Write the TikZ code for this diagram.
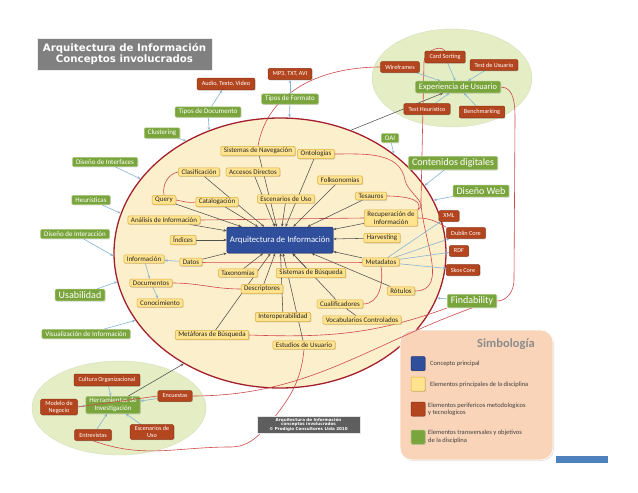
\documentclass[tikz,border=0pt]{standalone}
\usepackage{fontspec}
\setmainfont{Carlito}
\newfontfamily\vfont{DejaVu Sans}
\usetikzlibrary{shapes.geometric,arrows.meta,shadows}
\definecolor{yfill}{HTML}{FFE38F}
\definecolor{yline}{HTML}{DDAE3E}
\definecolor{rfill}{HTML}{B3461E}
\definecolor{rline}{HTML}{8C3414}
\definecolor{gfill}{HTML}{7AA53C}
\definecolor{gline}{HTML}{A9C77F}
\definecolor{mfill}{HTML}{2F4E9B}
\definecolor{mline}{HTML}{1E3472}
\definecolor{bigfill}{HTML}{FCEFCB}
\definecolor{bigline}{HTML}{A3202D}
\definecolor{gellfill}{HTML}{E5EDC4}
\definecolor{legfill}{HTML}{F9D4B8}
\definecolor{lbcol}{HTML}{86B5D2}
\definecolor{dkcol}{HTML}{505050}
\definecolor{relcol}{HTML}{D0494A}
\definecolor{titfill}{HTML}{808080}
\definecolor{copyfill}{HTML}{5E5E5E}
\definecolor{barblue}{HTML}{4F81BD}
\pgfdeclarelayer{back}
\pgfdeclarelayer{mid}
\pgfdeclarelayer{top}
\pgfsetlayers{back,mid,main,top}
\begin{document}
\begin{tikzpicture}[x=1pt,y=-1pt,
 box/.style={rounded corners=1.2pt, inner xsep=3pt, inner ysep=1.7pt, align=center, line width=0.5pt,
   drop shadow={shadow xshift=0.8pt, shadow yshift=-0.8pt, opacity=0.3}},
 ynode/.style={box, fill=yfill, draw=yline, text=black!85, font=\fontsize{7}{7.8}\selectfont},
 rnode/.style={box, fill=rfill, draw=rline, text=white, font=\fontsize{6.2}{7}\selectfont, inner xsep=4.6pt, inner ysep=3.3pt},
 gnode/.style={box, fill=gfill, draw=gline, text=white, font=\fontsize{7}{7.8}\selectfont, inner xsep=3.5pt, inner ysep=2.2pt},
 gbig/.style={gnode, font=\fontsize{10}{11}\selectfont, inner ysep=2.4pt},
 mainnode/.style={box, fill=mfill, draw=mline, text=white, font=\fontsize{8.7}{9.5}\selectfont, minimum width=106pt, minimum height=26pt},
 lb/.style={draw=lbcol, line width=0.6pt, -{Stealth[length=3.2pt,width=2.6pt]}},
 dk/.style={draw=dkcol, line width=0.55pt, -{Stealth[length=3.2pt,width=2.6pt]}},
 rel/.style={draw=relcol, line width=0.6pt},
 legtxt/.style={anchor=west, align=left, text=black!75, font=\fontsize{6.5}{7.5}\selectfont, inner sep=0pt},
 legsq/.style={minimum size=14pt, inner sep=0pt, rounded corners=1pt, line width=0.5pt, drop shadow={shadow xshift=0.8pt, shadow yshift=-0.8pt, opacity=0.3}}
]
\useasboundingbox (0,0) rectangle (638,493);

\begin{pgfonlayer}{back}
\fill[white] (0,0) rectangle (638,493);
\node[ellipse, fill=bigfill, draw=bigline, line width=1.3pt, minimum width=332pt, minimum height=270pt, inner sep=0pt] (BE) at (280,253) {};
\node[ellipse, fill=gellfill, draw=gellfill!85!gray, line width=0.4pt, minimum width=160pt, minimum height=98pt, inner sep=0pt] (UXE) at (452,78) {};
\node[ellipse, fill=gellfill, draw=gellfill!85!gray, line width=0.4pt, minimum width=174pt, minimum height=94pt, inner sep=0pt] (HRE) at (119,408) {};
\node[rounded corners=12pt, fill=legfill, draw=white, line width=0.8pt, minimum width=153pt, minimum height=130pt, inner sep=0pt,
  drop shadow={shadow xshift=1pt, shadow yshift=-1pt, opacity=0.25}] (legend) at (476.5,395) {};
\end{pgfonlayer}

% title
\node[fill=titfill, draw=white!85!gray, line width=1pt, minimum width=175pt, minimum height=32pt, inner sep=1pt, align=center,
  text=white, font=\vfont\bfseries\fontsize{10.2}{11}\selectfont,
  drop shadow={shadow xshift=1.2pt, shadow yshift=-1.2pt, opacity=0.3}] (title) at (124.5,54) {Arquitectura de Información\\Conceptos involucrados};

% top
\node[rnode] (audio) at (226,84) {Audio, Texto, Video};
\node[rnode] (mp3) at (290,74) {MP3, TXT, AVI};
\node[gnode] (tdoc) at (208,112) {Tipos de Documento};
\node[gnode] (tfor) at (290,99) {Tipos de Formato};
\node[gnode] (clus) at (162,133) {Clustering};

% left
\node[gnode] (dint) at (105,162) {Diseño de Interfaces};
\node[gnode] (heur) at (91,200) {Heurísticas};
\node[gnode] (dinc) at (75,234) {Diseño de Interacción};
\node[gbig] (usab) at (80,295) {Usabilidad};
\node[gnode] (visu) at (86,334) {Visualización de Información};

% right
\node[gnode] (oai) at (390,138) {OAI};
\node[gbig] (cont) at (453,163) {Contenidos digitales};
\node[gbig] (dweb) at (481,191) {Diseño Web};
\node[gbig] (find) at (472,301) {Findability};
\node[rnode] (xml) at (449,216) {XML};
\node[rnode] (dub) at (466,233) {Dublin Core};
\node[rnode] (rdf) at (459,251) {RDF};
\node[rnode] (skos) at (463,270) {Skos Core};

% UX
\node[rnode] (card) at (445,57) {Card Sorting};
\node[rnode] (wire) at (400,67) {Wireframes};
\node[rnode] (tusu) at (494,65) {Test de Usuario};
\node[gnode, font=\fontsize{8.4}{9.5}\selectfont] (exp) at (458,87) {Experiencia de Usuario};
\node[rnode] (theu) at (427,109) {Test Heurístico};
\node[rnode] (bench) at (482,112) {Benchmarking};

% research tools
\node[rnode] (cult) at (107,380) {Cultura Organizacional};
\node[rnode, inner ysep=1.6pt] (mode) at (59,407) {Modelo de\\Negocio};
\node[gnode, font=\fontsize{7}{8}\selectfont, inner ysep=1.5pt] (herr) at (113,405) {Herramientas de\\Investigación};
\node[rnode] (encu) at (175,396) {Encuestas};
\node[rnode] (entr) at (93,435) {Entrevistas};
\node[rnode, inner ysep=1.6pt] (esce) at (152,432) {Escenarios de\\Uso};

% main ellipse
\node[mainnode] (main) at (280,240) {Arquitectura de Información};
\node[ynode] (nav) at (258,151) {Sistemas de Navegación};
\node[ynode] (onto) at (316,154) {Ontologías};
\node[ynode] (clas) at (199,172) {Clasificación};
\node[ynode] (acce) at (253,172) {Accesos Directos};
\node[ynode] (folk) at (340,180) {Folksonomías};
\node[ynode] (query) at (164,200) {Query};
\node[ynode] (cata) at (217,202) {Catalogación};
\node[ynode] (esc) at (286,199) {Escenarios de Uso};
\node[ynode] (tes) at (371,196) {Tesauros};
\node[ynode] (anal) at (164,220) {Análisis de Información};
\node[ynode] (recu) at (391,218) {Recuperación de\\Información};
\node[ynode] (harv) at (382,238) {Harvesting};
\node[ynode] (indi) at (183,240) {Índices};
\node[ynode] (info) at (144,259) {Información};
\node[ynode] (datos) at (191,262) {Datos};
\node[ynode] (meta) at (381,262) {Metadatos};
\node[ynode] (taxo) at (238,273) {Taxonomías};
\node[ynode] (sbus) at (311,273) {Sistemas de Búsqueda};
\node[ynode] (docu) at (151,283) {Documentos};
\node[ynode] (rotu) at (401,291) {Rótulos};
\node[ynode] (desc) at (262,289) {Descriptores};
\node[ynode] (cono) at (160,303) {Conocimiento};
\node[ynode] (cual) at (340,304) {Cualificadores};
\node[ynode] (inte) at (283,317) {Interoperabilidad};
\node[ynode] (vocab) at (362,320) {Vocabularios Controlados};
\node[ynode] (metaf) at (212,335) {Metáforas de Búsqueda};
\node[ynode] (estu) at (304,345) {Estudios de Usuario};

% copyright
\node[fill=copyfill, draw=white!80!gray, line width=0.5pt, minimum width=103pt, minimum height=17pt, inner sep=0.5pt, align=center,
  text=white, font=\vfont\bfseries\fontsize{4.1}{4.7}\selectfont,
  drop shadow={shadow xshift=0.8pt, shadow yshift=-0.8pt, opacity=0.3}] (copy) at (308.5,424.5)
  {Arquitectura de Información\\conceptos involucrados\\© Prodigio Consultores Ltda 2010};

% legend content
\node[text=black!45, font=\bfseries\fontsize{12.5}{13}\selectfont, inner sep=0pt] (simb) at (506,344) {Simbología};
\node[legsq, fill=mfill, draw=mline] (lq1) at (418,363.5) {};
\node[legsq, fill=yfill, draw=yline] (lq2) at (418,384) {};
\node[legsq, fill=rfill, draw=rline] (lq3) at (418,409) {};
\node[legsq, fill=gfill, draw=gline] (lq4) at (418,437) {};
\node[legtxt] (lt1) at (430,364) {Concepto principal};
\node[legtxt] (lt2) at (430,385) {Elementos principales de la disciplina};
\node[legtxt] (lt3) at (428,409.5) {Elementos perifericos metodologicos\\y tecnologicos};
\node[legtxt] (lt4) at (428,437) {Elementos transversales y objetivos\\de la disciplina};

\node[fill=barblue, minimum width=52pt, minimum height=7pt, inner sep=0pt] (bar) at (582,459.5) {};

\begin{pgfonlayer}{top}
\draw[rel] (mode.east) -- (encu.west);
\end{pgfonlayer}

\begin{pgfonlayer}{mid}
% relation curves (red)
\draw[rel] (clas.west) to[out=190,in=100] (query.north);
\draw[rel] (query.east) to[out=-10,in=190] (cata.west);
\draw[rel] (anal.east) -- (recu.west);
\draw[rel] (recu.east) to[out=0,in=150] (dub.north west);
\draw[rel] (datos.east) to[out=0,in=180] (meta.west);
\draw[rel] (docu.east) to[out=0,in=180] (desc.west);
\draw[rel] (metaf.east) to[out=-2,in=200] (find.south west);
\draw[rel] (meta.south) to[out=-80,in=0] (cual.east);
\draw[rel] (onto.east) to[out=0,in=100] (405,180) to[out=-80,in=30] (recu.north east);
\draw[rel] (tes.east) to[out=0,in=60] (recu.north east);
\draw[rel] (nav.north) to[out=80,in=180] (wire.west);
\draw[rel] (card.north) to[out=130,in=90] (424,62) -- (421,200) to[out=-90,in=0] (rotu.east);
\draw[rel] (exp.east) to[out=0,in=90] (515,120) -- (514,280) to[out=-90,in=0] (find.east);
\draw[rel] (estu.south) to[out=-95,in=50] (268,425) to[out=-130,in=0] (230,447) to[out=180,in=-20] (entr.south);
\draw[rel] (encu.east) to[out=0,in=200] (find.south);

% light blue arrows
\draw[lb] (tdoc) -- (audio);
\draw[lb] (tfor) -- (mp3);
\draw[lb] (tdoc) -- (BE.120);
\draw[lb] (tfor) -- (BE.86);
\draw[lb] (clus) -- (BE.130);
\draw[lb] (dint) -- (BE.152);
\draw[lb] (heur) -- (BE.166);
\draw[lb] (dinc) -- (BE.181);
\draw[lb] (usab) -- (BE.190);
\draw[lb] (visu) -- (BE.205);
\draw[lb] (oai) -- (BE.41);
\draw[lb] (cont) -- (BE.25);
\draw[lb] (dweb) -- (BE.19);
\draw[lb] (find) -- (BE.344);
\draw[lb] (meta) -- (xml);
\draw[lb] (meta) -- (dub);
\draw[lb] (meta) -- (rdf);
\draw[lb] (meta) -- (skos);
\draw[lb] (card) -- (exp);
\draw[lb] (tusu) -- (exp);
\draw[lb] (wire) -- (exp);
\draw[lb] (theu) -- (exp);
\draw[lb] (bench) -- (exp);
\draw[lb] (cult) -- (herr);
\draw[lb] (mode) -- (herr);
\draw[lb] (encu) -- (herr);
\draw[lb] (entr) -- (herr);
\draw[lb] (esce) -- (herr);
\draw[lb] (datos) -- (info);
\draw[lb] (info) -- (docu);
\draw[lb] (docu) -- (cono);

% dark arrows
\draw[dk] (herr) -- (BE.229);
\draw[dk] (BE.60) -- (exp);
\foreach \n in {nav,onto,clas,acce,folk,query,cata,esc,tes,anal,recu,harv,indi,datos,taxo,sbus,desc,inte,estu,meta,rotu,cual,metaf}
  \draw[dk] (\n) -- (main);
\draw[dkcol, line width=0.55pt] (cual) -- (vocab);
\end{pgfonlayer}
\end{tikzpicture}
\end{document}
